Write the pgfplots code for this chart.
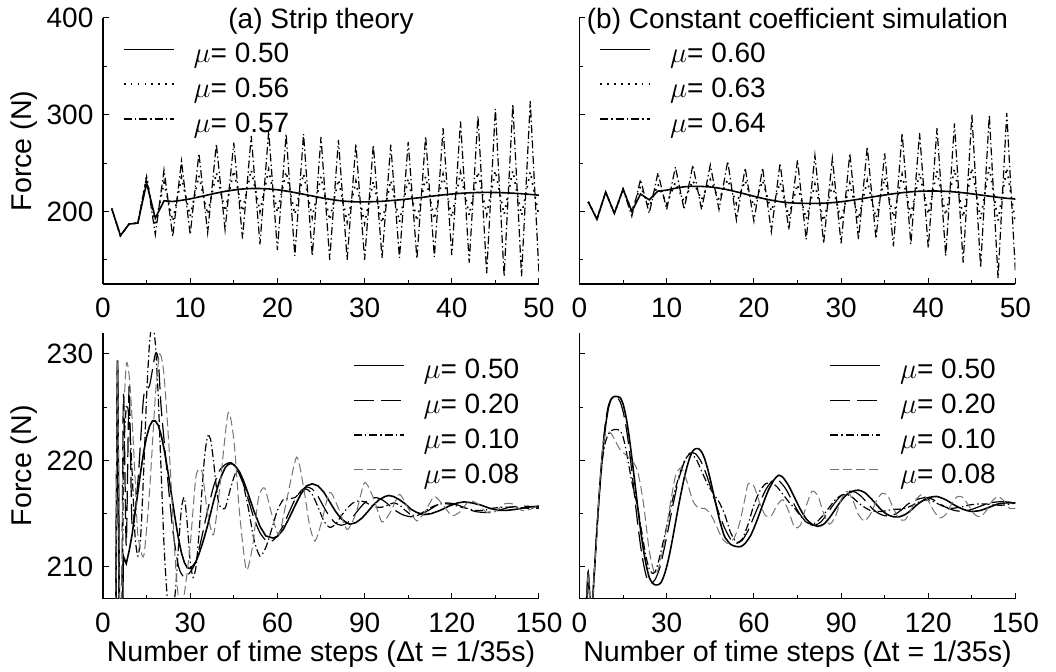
\documentclass[border=0pt]{standalone}
\usepackage{fontspec}
\setmainfont{Liberation Sans}
\usepackage{pgfplots}
\usepackage{pgfplotstable}
\pgfplotsset{compat=1.18}
\usepgfplotslibrary{groupplots}

% ---- (a) strip theory, top ----
\pgfplotstableread{
x y
1 203
2 175
3 187
4 188
5 229.4
6 193
7 211
8 210.3
9 211.5
10 213
11 215
12 217
13 219
14 220.8
15 222.2
16 223.2
17 223.7
18 223.7
19 223.3
20 222.4
21 221.1
22 219.5
23 217.8
24 216.0
25 214.2
26 212.6
27 211.3
28 210.4
29 209.9
30 209.85
31 210.1
32 210.5
33 211.2
34 212.0
35 212.9
36 213.9
37 215.0
38 216.1
39 217.1
40 218.0
41 218.7
42 219.3
43 219.6
44 219.7
45 219.6
46 219.3
47 218.9
48 218.3
49 217.6
50 216.8
52 215.2
54 213.8
56 212.9
58.5 212.7
60 212.85
62 213.5
64 214.55
66 215.7
68 216.8
70 217.6
72 217.8
74 217.6
76 217.0
78 216.1
80 215.2
82 214.5
84 214.1
85 214.0
87 214.15
89 214.55
91 215.15
93 215.8
95 216.3
97 216.6
98.3 216.7
100 216.6
102 216.3
104 215.9
106 215.4
108 215.1
110.4 214.9
113 215.0
116 215.3
119 215.7
122 216.0
124.3 216.1
127 216.0
130 215.8
133 215.5
136 215.3
139 215.3
142 215.4
146 215.6
150 215.7
}\stripA

\pgfplotstableread{
x y
1 203
2 175
3 187
4 188
5 236
6 185
7 230
8 190
9 235
10 195
11 237
12 197
13 240
14 200
15 242
16 200
17 243
18 200
19 243
20 199
21 241
22 197
23 239
24 194
25 236
26 191
27 233
28 189
29 231
30 188
31 231
32 188
33 232
34 189
35 234
36 190
37 236
38 192
39 238
40 194
41 240
42 196
43 241
44 197
45 242
46 197
47 242
48 196
49 241
50 195
}\stripB

\pgfplotstableread{
x y
1 203
2 175
3 187
4 188
5 236
6 176
7 243
8 174
9 252
10 176
11 260
12 178
13 270
14 181
15 271
16 172
17 278
18 166
19 283
20 160
21 280
22 154
23 280
24 154
25 277
26 150
27 274
28 150
29 270
30 150
31 269
32 152
33 269
34 152
35 272
36 151
37 278
38 153
39 286
40 155
41 293
42 147
43 299
44 136
45 306
46 133
47 311
48 133
49 314
50 136
}\stripC

% ---- (b) constant coefficient, top ----
\pgfplotstableread{
x y
1 210
2 192
3 220
4 198
5 223
6 200
7 218
8 212
9 221
10 222
11 224
12 225.5
13 226
14 225.9
15 225.3
16 224.1
17 222.4
18 220.3
19 218
20 215.7
21 213.5
22 211.6
23 210.1
24 209
25 208.5
26 208.3
27 208.3
28 208.5
29 209.1
30 210
31 211.2
32 212.6
33 214.1
34 215.6
35 217
36 218.3
37 219.4
38 220.3
39 220.9
40 221.1
41 221.1
42 220.8
43 220.2
44 219.3
45 218.2
46 217
47 215.8
48 214.6
49 213.6
50 212.8
}\constA

\pgfplotstableread{
x y
1 210
2 192
3 220
4 198
5 223
6 200
7 226
8 205
9 228
10 208
11 230
12 210
13 232
14 212
15 233
16 212
17 233
18 208
19 232
20 205
21 232
22 200
23 230
24 195
25 228
26 192
27 228
28 190
29 228
30 190
31 229
32 192
33 232
34 193
35 235
36 194
37 238
38 196
39 240
40 197
41 242
42 196
43 244
44 194
45 245
46 192
47 246
48 190
49 245
50 188
}\constB

\pgfplotstableread{
x y
1 210
2 192
3 220
4 198
5 223
6 195
7 233
8 198
9 240
10 202
11 246
12 202
13 248
14 202
15 248
16 202
17 252
18 191
19 245
20 190
21 245
22 179
23 250
24 181
25 253
26 171
27 258
28 167
29 255
30 167
31 260
32 171
33 267
34 172
35 260
36 164
37 281
38 166
39 281
40 162
41 286
42 154
43 291
44 147
45 300
46 142
47 300
48 131
49 302
50 136
}\constC

% ---- (a) bottom, other damping values ----
\pgfplotstableread{
x y
1 203
2 175
3 187
4 188
5 229
6 190
7 226
8 212
9 227
10 214
12 218
14 226
16 227
18 230
19 229.5
20 225
22 219
24 213.5
26 210
28 209
30 209.5
32 210.5
34 212.8
36 215.3
38 217.5
40 219
42 219.6
44 219.8
46 219.2
48 218
50 216.3
52 214.5
54 213.2
56 212.5
58 212.4
60 212.9
62 213.9
64 215.1
66 216.3
68 217.1
70 217.5
72 217.3
74 216.6
76 215.6
78 214.7
80 214.1
82 213.9
84 214.1
86 214.7
88 215.4
90 216
92 216.4
94 216.5
96 216.3
98 215.9
100 215.4
103 214.9
106 214.7
109 214.9
112 215.3
115 215.8
118 216
121 215.9
124 215.6
128 215.2
132 215.1
136 215.3
140 215.6
145 215.7
150 215.6
}\stripD

\pgfplotstableread{
x y
1 203
2 175
3 187
4 188
5 229
6 185
7 218
8 225
9 224
10 219
11 213
12 211
13 213
14 219
15 226
16 231
17 233
18 231
19 226
20 219
21 212
22 207.5
23 205
24 205.5
25 208
26 212
27 215.5
28 216.5
29 214
30 210.5
31 209
32 210
33 213
34 217
35 220.5
36 222.3
37 222
38 220
39 217.5
40 215.8
42 215.5
44 217.5
46 219
48 218
50 215.5
52 212.5
54 211
56 211.8
58 213.5
60 215.3
62 216.3
64 216.4
66 216.5
68 217
70 217.3
72 216.8
74 215.6
76 214.3
78 213.7
80 214
82 214.8
84 215.5
86 216
88 216.2
90 216.1
92 215.8
94 215.6
96 215.6
98 215.8
100 216
102 215.8
104 215.3
106 214.9
108 214.8
110 215.1
113 215.6
116 215.9
119 215.9
122 215.7
125 215.5
128 215.3
131 215.3
134 215.5
138 215.6
142 215.6
146 215.5
150 215.5
}\stripE

\pgfplotstableread{
x y
1 203
2 175
3 187
4 188
5 229
6 195
7 222
8 229
9 228
10 224
11 218.5
12 213
14 211
16 217
18 226
19.5 230
21 228
23 220
25 210
26.5 206
28 207.5
30 212
32 218.5
34 219
36 215
38 213
40 217
43 224.4
45 222
47 215
49.3 209.7
51.5 212
53.5 216.5
55.6 217.4
58 215
60.5 213
63 216
66.6 220.3
69 217.5
71 214
72.9 212.4
75 214
78 217
81 215.5
84 213.5
87 215
90 217.9
93 216.5
96 214.2
99 215.2
102 216.8
105 215.5
108 214.3
111 215.3
114 216.6
117 215.8
120 214.8
123 215.2
126 216.2
129 215.9
132 215.1
135 215.2
138 215.9
141 215.9
144 215.3
147 215.4
150 215.8
}\stripF

% ---- (b) bottom ----
\pgfplotstableread{
x y
1 200
2 204
3 209.4
4 205
5 209
6 213.5
7 217.5
8 220.8
9 223.3
10 225
11 225.8
12 226
13 226
14 225.9
15 225.3
16 224.1
17 222.4
18 220.3
19 218
20 215.7
21 213.5
22 211.6
23 210.1
24 209
25 208.5
26 208.3
27 208.3
28 208.5
29 209.1
30 210
31 211.2
32 212.6
33 214.1
34 215.6
35 217
36 218.3
37 219.4
38 220.3
39 220.9
40 221.1
41 221.1
42 220.8
43 220.2
44 219.3
45 218.2
46 217
47 215.8
48 214.6
49 213.6
50 212.8
52 212.1
54 211.9
55.5 211.9
57 212.2
59 213
61 214.3
63 215.8
65 217.2
67 218.2
68.5 218.6
70 218.4
72 217.6
74 216.5
76 215.4
78 214.5
80 214
82 213.8
84 214
86 214.6
88 215.4
90 216.2
92 216.8
94 217.1
96 217.2
98 217
100 216.5
102 215.9
104 215.3
106 214.9
108 214.7
110 214.7
112 214.9
114 215.3
116 215.8
118 216.2
120 216.5
123 216.6
126 216.3
129 215.8
132 215.4
135 215.2
138 215.3
141 215.6
144 215.9
147 216
150 216
}\constD

\pgfplotstableread{
x y
1 200
2 204
3 209.4
4 205
5 209
6 213.5
7 217.6
8 221.2
9 223.7
10 225.2
11 225.8
12 226
13 225.9
14 225.5
15 224.6
16 223.2
17 221.3
18 219
19 216.5
20 214.1
21 212
22 210.3
23 209.1
24 208.6
25 208.5
26 208.8
27 209.4
28 210.3
30 212.8
32 215.6
34 218.1
36 219.8
38 220.7
40 220.6
42 219.8
44 218.4
46 216.7
48 215
50 213.6
52 212.6
54 212.2
56 212.5
58 213.4
60 214.7
62 216
64 217.2
66 218
67.5 218.2
69 218
71 217.3
73 216.3
75 215.3
77 214.5
79 214
81 213.9
83 214.2
85 214.9
87 215.7
89 216.4
91 216.9
93 217.1
95 217
97 216.6
99 216
101 215.4
103 215
105 214.8
107 214.8
109 215
111 215.4
113 215.9
115 216.2
117 216.4
119 216.5
121 216.4
123 216.1
126 215.6
129 215.3
132 215.2
135 215.4
138 215.7
141 216
144 216.1
147 216.1
150 216
}\constE

\pgfplotstableread{
x y
1 200
2 204
3 209.4
4 205
5 209
6 213.5
7 217.5
8 220.3
9 221.8
10 222.5
11 222.8
12 222.9
13 222.9
14 222.8
15 222.2
16 221
17 219.5
18 218
19 216.8
20 215.6
21 214
22 212.3
23 210.8
24 209.8
25 209.4
26 209.5
27 210.3
28 211.4
30 213.8
32 216.3
34 218.3
36 219.9
38 220.6
40 220.2
42 219
44 217.8
46 216.9
48 216.1
50 214.9
52 213.2
54 212.3
56 212.6
58 214
60 215.8
62 217.1
64 217.8
66 217.9
68 217.5
70 216.8
72 216.1
74 215.5
76 214.8
78 214.2
80 214
82 214.3
84 214.9
86 215.6
88 216.3
90 216.7
92 216.8
94 216.5
96 216
98 215.6
100 215.3
102 215.2
104 215.2
106 215.3
108 215.4
110 215.4
112 215.5
114 215.7
116 216
118 216.2
120 216.3
122 216.1
125 215.7
128 215.5
131 215.6
134 215.8
137 215.9
140 215.9
143 215.8
146 215.8
150 216
}\constF

\pgfplotstableread{
x y
1 200
2 204
3 209.4
4 205
5 209
6 213
7 218
8 221.3
9 222.5
10 222.7
11 222.5
12 222
14 221
16 220.5
18 220
20 219
22 216
24 211.5
25.8 209.4
27 209.7
29 212
31 215.5
33 218.5
35 219.3
37 218
39 216.2
41 215.5
43 215.5
45 215
47 213.9
49 212.7
51 212.2
53 212.6
55 214
57 216.5
58 217.8
60 217.6
62 216
64 214.8
66 214.8
68 215.8
70 216.3
72 215.2
74 213.7
76 213.9
78 215.7
80 217.1
82 216.7
84 215
86 214
88 214.7
90 216.3
92 217.1
94 216.3
96 214.9
98 214.3
100 214.9
102 216.1
104 216.9
106 216.7
108 215.5
110 214.5
112 214.4
114 215.3
116 216.4
118 216.8
120 216.2
122 215.2
124 214.6
126 214.9
128 215.9
130 216.6
132 216.5
134 215.7
136 214.9
138 214.7
140 215.3
142 216.2
144 216.6
146 216.2
148 215.5
150 215.5
}\constG

\pgfplotsset{
  panel/.style={
    scale only axis, width=218pt, height=133pt,
    axis x line*=bottom, axis y line*=left,
    axis line style={line width=0.6pt},
    tick align=inside, major tick length=3pt, minor tick length=1.8pt,
    every tick/.style={black, line width=0.5pt},
    /pgf/number format/assume math mode=true,
    tick label style={font=\fontsize{14}{16}\selectfont},
    xticklabel style={yshift=-3.5pt},
    yticklabel style={xshift=-1.3pt},
    label style={font=\fontsize{14.3}{17}\selectfont},
    xlabel style={at={(axis description cs:0.5,-0.236)}, anchor=base},
    ylabel style={at={(axis description cs:-0.18,0.5)}, anchor=center},
    title style={font=\fontsize{14}{16}\selectfont, at={(axis description cs:0.5,0.915)}, anchor=base, yshift=0pt},
    legend cell align=left,
    legend image code/.code={\draw[##1] (0pt,5pt) -- (25pt,5pt);},
    legend style={draw=none, fill=none, inner sep=0pt, outer sep=0pt,
      row sep=0pt, column sep=9.5pt,
      font=\fontsize{14}{16}\selectfont,
      nodes={inner sep=0pt, text height=10.4pt, text depth=7pt}},
  },
  s50/.style={black, line width=0.8pt},
  sdot/.style={black, line width=0.85pt, dash pattern=on 0.85pt off 2.6pt},
  sdd/.style={black, line width=0.6pt, dash pattern=on 4pt off 1.5pt on 0.7pt off 1.5pt},
  slong/.style={black, line width=0.6pt, dash pattern=on 10pt off 3.5pt},
  sgray/.style={black!55, line width=0.5pt, dash pattern=on 4.5pt off 2pt},
}

\begin{document}
\begin{tikzpicture}
\begin{groupplot}[group style={group size=2 by 2, horizontal sep=20.25pt, vertical sep=24.35pt}, panel]

\nextgroupplot[xmin=0, xmax=50, ymin=125, ymax=400,
  xtick={0,10,...,50}, minor xtick={5,15,...,45},
  ytick={200,300,400}, minor ytick={150,250,350},
  ylabel={Force (N)}, title={(a) Strip theory},
  legend style={at={(axis description cs:0.0459,0.91)}, anchor=north west}]
\addplot[s50] table {\stripA};
\addlegendentry{$\mu$= 0.50}
\addplot[sdot] table {\stripB};
\addlegendentry{$\mu$= 0.56}
\addplot[sdd] table {\stripC};
\addlegendentry{$\mu$= 0.57}

\nextgroupplot[xmin=0, xmax=50, ymin=125, ymax=400,
  xtick={0,10,...,50}, minor xtick={5,15,...,45},
  ytick={200,300,400}, minor ytick={150,250,350}, yticklabels={},
  title={(b) Constant coefficient simulation},
  legend style={at={(axis description cs:0.0459,0.91)}, anchor=north west}]
\addplot[s50] table {\constA};
\addlegendentry{$\mu$= 0.60}
\addplot[sdot] table {\constB};
\addlegendentry{$\mu$= 0.63}
\addplot[sdd] table {\constC};
\addlegendentry{$\mu$= 0.64}

\nextgroupplot[xmin=0, xmax=150, ymin=207, ymax=232,
  xtick={0,30,...,150}, minor xtick={15,45,...,135},
  ytick={210,220,230}, minor ytick={215,225},
  ylabel={Force (N)}, xlabel={Number of time steps (Δt = 1/35s)},
  legend style={at={(axis description cs:0.5734,0.905)}, anchor=north west}]
\addplot[s50] table {\stripA};
\addlegendentry{$\mu$= 0.50}
\addplot[slong, smooth, tension=0.4] table {\stripD};
\addlegendentry{$\mu$= 0.20}
\addplot[sdd, smooth, tension=0.4] table {\stripE};
\addlegendentry{$\mu$= 0.10}
\addplot[sgray, smooth, tension=0.4] table {\stripF};
\addlegendentry{$\mu$= 0.08}

\nextgroupplot[xmin=0, xmax=150, ymin=207, ymax=232,
  xtick={0,30,...,150}, minor xtick={15,45,...,135},
  ytick={210,220,230}, minor ytick={215,225}, yticklabels={},
  xlabel={Number of time steps (Δt = 1/35s)},
  legend style={at={(axis description cs:0.5734,0.905)}, anchor=north west}]
\addplot[s50, smooth, tension=0.4] table {\constD};
\addlegendentry{$\mu$= 0.50}
\addplot[slong, smooth, tension=0.4] table {\constE};
\addlegendentry{$\mu$= 0.20}
\addplot[sdd, smooth, tension=0.4] table {\constF};
\addlegendentry{$\mu$= 0.10}
\addplot[sgray, smooth, tension=0.4] table {\constG};
\addlegendentry{$\mu$= 0.08}
\end{groupplot}
\pgfresetboundingbox
\path (group c1r1.north west) ++(-51.5pt,9pt) rectangle ++(528pt,-336pt);
\end{tikzpicture}
\end{document}
